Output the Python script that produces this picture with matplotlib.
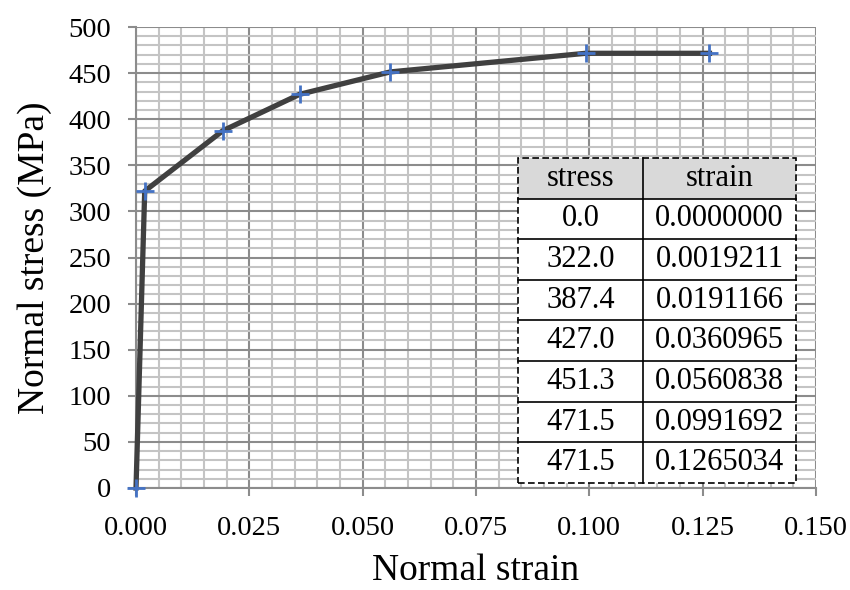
import matplotlib

matplotlib.use("Agg")
import matplotlib.pyplot as plt
from matplotlib.patches import Rectangle
from matplotlib.ticker import MultipleLocator

# stress-strain points (same values shown in the table)
stress = [0.0, 322.0, 387.4, 427.0, 451.3, 471.5, 471.5]
strain = [0.0000000, 0.0019211, 0.0191166, 0.0360965, 0.0560838, 0.0991692, 0.1265034]
col_labels = ["stress", "strain"]

plt.rcParams["font.family"] = ["Liberation Serif", "DejaVu Serif"]

fig = plt.figure(figsize=(8.5, 5.9), dpi=100)
ax = fig.add_axes([0.16, 0.1729, 0.8, 0.7813])

ax.plot(strain, stress, color="#404040", lw=3.8, zorder=3, solid_joinstyle="round",
        clip_on=False)
ax.plot(strain, stress, ls="none", marker="+", ms=13, mew=2, color="#4472c4", zorder=4,
        clip_on=False)

ax.set_xlim(0, 0.15)
ax.set_ylim(0, 500)
ax.xaxis.set_major_locator(MultipleLocator(0.025))
ax.xaxis.set_minor_locator(MultipleLocator(0.005))
ax.yaxis.set_major_locator(MultipleLocator(50))
ax.yaxis.set_minor_locator(MultipleLocator(10))
ax.xaxis.set_major_formatter(lambda v, p: f"{v:.3f}")

ax.grid(which="minor", color="#c4c4c4", lw=1.5)
ax.grid(which="major", color="#8c8c8c", lw=1.5)
ax.set_axisbelow(True)

for s in ["top", "right"]:
    ax.spines[s].set_visible(False)
for s in ["left", "bottom"]:
    ax.spines[s].set_color("#8c8c8c")
    ax.spines[s].set_linewidth(1.5)

ax.tick_params(which="major", direction="out", length=6, width=1.5, color="#8c8c8c",
               labelsize=20.5)
ax.tick_params(axis="y", pad=12)
ax.tick_params(axis="x", pad=14)
ax.tick_params(which="minor", length=0)

ax.set_xlabel("Normal strain", fontsize=27, labelpad=9)
ax.set_ylabel("Normal stress (MPa)", fontsize=27, labelpad=12)

# table of values, drawn by hand in axes coordinates
x0, x1, y0, y1 = 0.5618, 0.9706, 0.0108, 0.716
xm = x0 + 0.45 * (x1 - x0)
nrows = len(stress) + 1
rh = (y1 - y0) / nrows
kw = dict(transform=ax.transAxes, clip_on=False)

ax.add_patch(Rectangle((x0, y0), x1 - x0, y1 - y0, fc="white", ec="none", zorder=5, **kw))
ax.add_patch(Rectangle((x0, y1 - rh), x1 - x0, rh, fc="#d9d9d9", ec="none", zorder=5, **kw))
for i in range(1, nrows):
    yy = y1 - i * rh
    ax.plot([x0, x1], [yy, yy], color="black", lw=1.2, zorder=6, **kw)
ax.plot([xm, xm], [y0, y1], color="black", lw=1.2, zorder=6, **kw)
ax.add_patch(Rectangle((x0, y0), x1 - x0, y1 - y0, fill=False, ec="black", lw=1.2,
                       ls=(0, (4, 2)), zorder=7, **kw))

rows = [col_labels] + [[f"{a:.1f}", f"{b:.7f}"] for a, b in zip(stress, strain)]
for i, (a, b) in enumerate(rows):
    yc = y1 - (i + 0.5) * rh
    ax.text((x0 + xm) / 2, yc, a, ha="center", va="center", fontsize=22, zorder=8, **kw)
    ax.text((xm + x1) / 2, yc, b, ha="center", va="center", fontsize=22, zorder=8, **kw)

fig.savefig("out.png", dpi=100)
